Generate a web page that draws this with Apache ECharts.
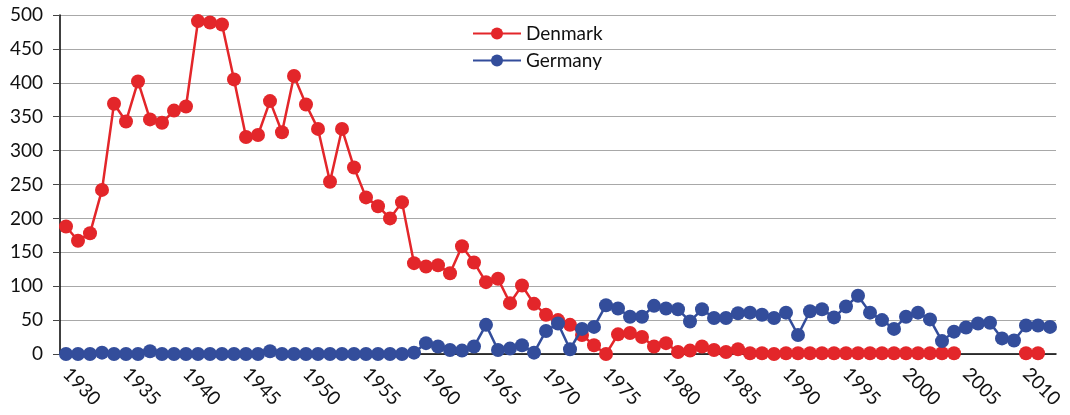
<!DOCTYPE html>
<html>
<head>
<meta charset="utf-8">
<script src="https://cdn.jsdelivr.net/npm/echarts@6/dist/echarts.min.js"></script>
<style>
  html, body { margin: 0; padding: 0; background: #fff; }
  #chart { width: 1070px; height: 415px; }
</style>
</head>
<body>
<div id="chart"></div>
<script>
// years 1930..2012
const years = []
for (let y = 1930; y <= 2012; y++) years.push(String(y))

const denmark = [
  188, 167, 178, 242, 369, 343, 402, 346, 341, 359,
  365, 491, 489, 486, 405, 320, 323, 373, 327, 410,
  368, 332, 254, 332, 275, 231, 218, 200, 224, 134,
  129, 131, 119, 159, 135, 106, 111, 75, 101, 74,
  58, 50, 43, 28, 13, 0, 29, 31, 25, 11,
  16, 3, 5, 11, 6, 3, 7, 1, 1, 0,
  1, 1, 1, 1, 1, 1, 1, 1, 1, 1,
  1, 1, 1, 1, 1, null, null, null, null, null,
  1, 1, null
]

const germany = [
  0, 0, 0, 2, 0, 0, 0, 4, 0, 0,
  0, 0, 0, 0, 0, 0, 0, 4, 0, 0,
  0, 0, 0, 0, 0, 0, 0, 0, 0, 2,
  16, 11, 6, 5, 11, 43, 6, 8, 13, 2,
  34, 45, 7, 37, 40, 72, 67, 55, 55, 71,
  67, 66, 48, 66, 53, 53, 60, 61, 58, 53,
  61, 28, 63, 66, 54, 70, 86, 61, 50, 37,
  55, 61, 51, 19, 33, 39, 45, 46, 23, 20,
  42, 42, 40
]

const seriesNames = ['Denmark', 'Germany']
const seriesColors = ['#e3262a', '#334d9b']

const chart = echarts.init(document.getElementById('chart'))

const font = 'Lato, "Open Sans", sans-serif'

chart.setOption({
  animation: false,
  textStyle: { fontFamily: font },
  grid: { left: 60, right: 14, top: 15, bottom: 61 },
  legend: {
    orient: 'vertical',
    left: 467,
    top: 19,
    itemWidth: 48,
    itemHeight: 15,
    itemGap: 8,
    data: seriesNames,
    textStyle: { fontSize: 19, color: '#111', fontFamily: font }
  },
  xAxis: {
    type: 'category',
    data: years,
    boundaryGap: true,
    axisLine: { lineStyle: { color: '#000', width: 1.5 } },
    axisTick: { interval: 0, length: 6, lineStyle: { color: '#444' } },
    axisLabel: {
      interval: 4,
      rotate: -45,
      margin: 17,
      fontSize: 19,
      color: '#111',
      fontFamily: font
    },
    splitLine: { show: false }
  },
  yAxis: {
    type: 'value',
    min: 0,
    max: 500,
    interval: 50,
    axisLine: { show: true, lineStyle: { color: '#000', width: 1.5 } },
    axisTick: { show: true, length: 7, lineStyle: { color: '#444' } },
    axisLabel: { fontSize: 19, color: '#111', margin: 17, fontFamily: font },
    splitLine: { lineStyle: { color: '#a8a8a8', width: 1.2 } }
  },
  series: [
    {
      name: seriesNames[0],
      type: 'line',
      data: denmark,
      symbol: 'circle',
      symbolSize: 14,
      showAllSymbol: true,
      connectNulls: false,
      lineStyle: { width: 2.5, color: seriesColors[0] },
      itemStyle: { color: seriesColors[0] },
      z: 2
    },
    {
      name: seriesNames[1],
      type: 'line',
      data: germany,
      symbol: 'circle',
      symbolSize: 14,
      showAllSymbol: true,
      lineStyle: { width: 2.5, color: seriesColors[1] },
      itemStyle: { color: seriesColors[1] },
      z: 3
    }
  ]
})
</script>
</body>
</html>
